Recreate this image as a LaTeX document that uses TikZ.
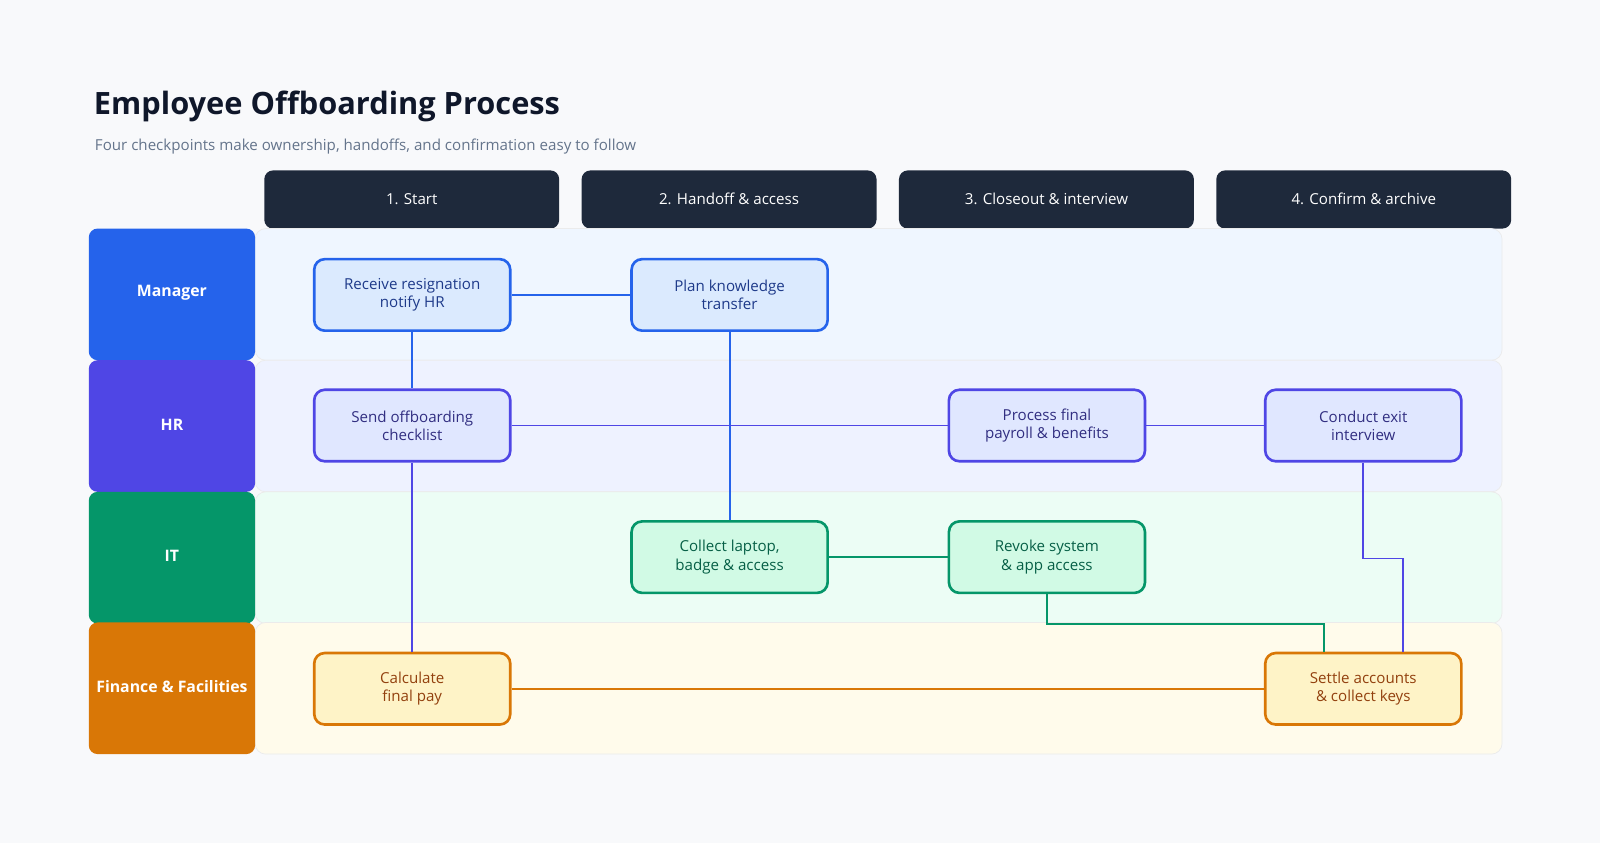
\documentclass[tikz,border=0pt]{standalone}
\usepackage{fontspec}
\setmainfont{Open Sans}
\usetikzlibrary{positioning}
\definecolor{bgc}{HTML}{F8F9FB}
\definecolor{headc}{HTML}{1E293B}
\definecolor{titlec}{HTML}{0F172A}
\definecolor{subc}{HTML}{64748B}
\definecolor{mgrc}{HTML}{2563EB}
\definecolor{mgrf}{HTML}{DBEAFE}
\definecolor{mgrl}{HTML}{EFF6FF}
\definecolor{mgrt}{HTML}{1E3A8A}
\definecolor{hrc}{HTML}{4F46E5}
\definecolor{hrf}{HTML}{E0E7FF}
\definecolor{hrl}{HTML}{EEF2FF}
\definecolor{hrt}{HTML}{312E81}
\definecolor{itc}{HTML}{059669}
\definecolor{itf}{HTML}{D1FAE5}
\definecolor{itl}{HTML}{ECFDF5}
\definecolor{itt}{HTML}{065F46}
\definecolor{finc}{HTML}{D97706}
\definecolor{finf}{HTML}{FEF3C7}
\definecolor{finl}{HTML}{FFFBEB}
\definecolor{fint}{HTML}{92400E}
\tikzset{
  box/.style={draw, line width=1.5pt, rounded corners=6pt, minimum width=3.92cm,
    minimum height=1.43cm, align=center, font=\fontsize{8.6}{10.4}\selectfont},
  mgrbox/.style={box, draw=mgrc, fill=mgrf, text=mgrt},
  hrbox/.style={box, draw=hrc, fill=hrf, text=hrt},
  itbox/.style={box, draw=itc, fill=itf, text=itt},
  finbox/.style={box, draw=finc, fill=finf, text=fint},
  link/.style={line width=1.05pt},
  lanelabel/.style={text=white, font=\bfseries\fontsize{9}{11}\selectfont}
}
\begin{document}
\begin{tikzpicture}[x=0.0204cm, y=-0.0204cm]
\fill[bgc] (0,0) rectangle (1568,826);
\node[anchor=west, text=titlec, font=\bfseries\fontsize{17.5}{21}\selectfont] (title) at (86,104) {Employee Offboarding Process};
\node[anchor=west, text=subc, font=\fontsize{8.6}{10}\selectfont] (subtitle) at (87,144) {Four checkpoints make ownership, handoffs, and confirmation easy to follow};
% column headers
\foreach \x/\t in {259/1. Start, 570/2. Handoff \& access, 881/3. Closeout \& interview, 1192/4. Confirm \& archive}{
  \fill[headc, rounded corners=5pt] (\x,224) -- (\x,167) -- (\x+289,167) -- (\x+289,224) -- cycle;
  \node[text=white, font=\fontsize{8.6}{10}\selectfont] at (\x+144.5,195) {\t};
}
% lanes
\foreach \y/\c/\l/\t in {224/mgrc/mgrl/Manager, 353/hrc/hrl/HR, 482/itc/itl/IT, 610/finc/finl/Finance \& Facilities}{
  \fill[\l, rounded corners=6pt] (250,\y) rectangle (1472,\y+129);
  \draw[black!8, rounded corners=6pt] (250,\y) rectangle (1472,\y+129);
  \fill[\c, rounded corners=5pt] (87,\y+129) -- (87,\y) -- (250,\y) -- (250,\y+129) -- cycle;
  \node[lanelabel] at (168.5,\y+63) {\t};
}
% steps
\node[mgrbox] (receive) at (404,289) {Receive resignation\\notify HR};
\node[mgrbox] (plan) at (715,289) {Plan knowledge\\transfer};
\node[hrbox] (send) at (404,417) {Send offboarding\\checklist};
\node[hrbox] (payroll) at (1026,417) {Process final\\payroll \& benefits};
\node[hrbox] (exit) at (1336,417) {Conduct exit\\interview};
\node[itbox] (collect) at (715,546) {Collect laptop,\\badge \& access};
\node[itbox] (revoke) at (1026,546) {Revoke system\\\& app access};
\node[finbox] (calc) at (404,675) {Calculate\\final pay};
\node[finbox] (settle) at (1336,675) {Settle accounts\\\& collect keys};
% connectors
\draw[link, mgrc] (receive) -- (plan);
\draw[link, mgrc] (receive) -- (send);
\draw[link, mgrc] (plan) -- (collect);
\draw[link, hrc] (send) -- (payroll);
\draw[link, hrc] (payroll) -- (exit);
\draw[link, hrc] (send) -- (calc);
\draw[link, itc] (collect) -- (revoke);
\draw[link, itc] (revoke.south) -- ++(0,29) -| ([xshift=-0.78cm]settle.north);
\draw[link, hrc] (exit.south) -- ++(0,94) -| ([xshift=0.79cm]settle.north);
\draw[link, finc] (calc) -- (settle);
\end{tikzpicture}
\end{document}
